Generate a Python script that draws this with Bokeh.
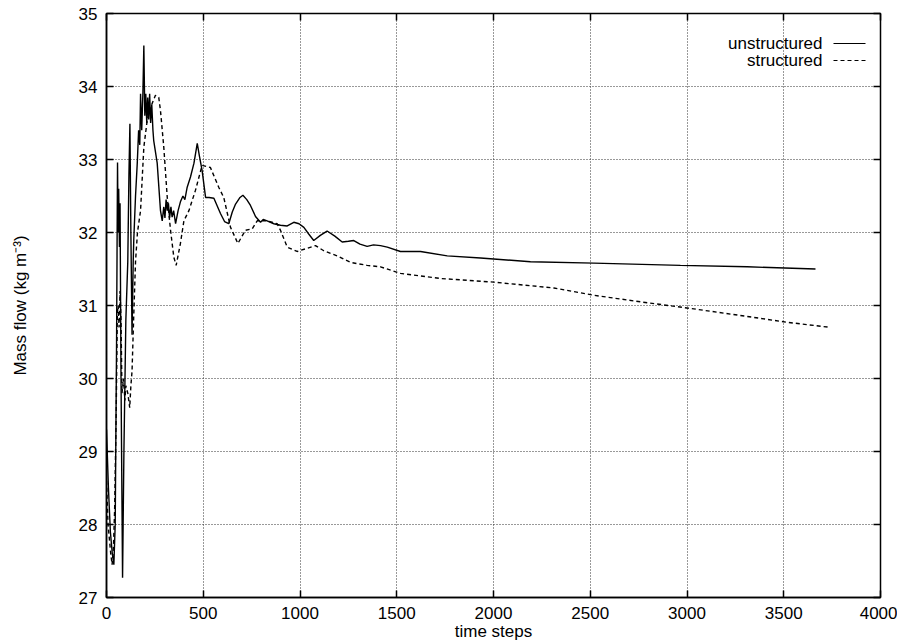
from bokeh.plotting import figure
from bokeh.models import (Range1d, LinearAxis, FixedTicker, Label, Arrow)
from bokeh.embed import file_html
from bokeh.resources import INLINE

# ---- data ----
unstructured_x = [0, 10, 20, 30, 38, 45, 52, 57, 60, 63, 67, 70, 75, 83, 90, 100, 110, 116, 121, 126,
                  132, 138, 141, 150, 159, 166, 172, 176, 182, 188, 193, 198, 203, 208, 213, 218, 223,
                  228, 234, 240, 244, 262, 279, 288, 296, 302, 308, 314, 320, 326, 333, 339, 347, 357,
                  370, 382, 395, 405, 417, 434, 452, 469, 480, 494, 512, 530, 555, 589, 610, 632, 650,
                  667, 690, 705, 725, 744, 770, 796, 810, 830, 865, 899, 934, 968, 995, 1020, 1045,
                  1071, 1105, 1140, 1180, 1218, 1250, 1278, 1310, 1347, 1380, 1416, 1451, 1519, 1623,
                  1761, 1933, 2191, 2519, 2966, 3311, 3664]
unstructured_y = [29.3, 28.5, 27.9, 27.6, 27.45, 28.0, 30.5, 32.96, 32.0, 32.6, 31.8, 32.4, 30.0, 27.27,
                  29.0, 30.8, 31.6, 32.8, 33.49, 32.0, 30.6, 31.6, 31.9, 32.5, 32.95, 33.4, 33.2, 33.9,
                  33.4, 33.9, 34.56, 33.6, 33.9, 33.5, 33.85, 33.55, 33.9, 33.5, 33.75, 33.4, 33.26,
                  32.95, 32.30, 32.16, 32.35, 32.2, 32.45, 32.3, 32.4, 32.2, 32.35, 32.21, 32.3, 32.12,
                  32.3, 32.42, 32.5, 32.45, 32.62, 32.76, 32.95, 33.22, 33.05, 32.85, 32.48, 32.48,
                  32.47, 32.26, 32.15, 32.12, 32.28, 32.39, 32.48, 32.51, 32.45, 32.37, 32.22, 32.14,
                  32.18, 32.16, 32.12, 32.10, 32.09, 32.14, 32.12, 32.07, 31.98, 31.89, 31.96, 32.02,
                  31.95, 31.87, 31.88, 31.89, 31.84, 31.81, 31.83, 31.82, 31.80, 31.74, 31.74, 31.68,
                  31.65, 31.60, 31.58, 31.55, 31.53, 31.50]

structured_x = [0, 8, 15, 22, 29, 36, 42, 50, 56, 60, 65, 70, 75, 80, 88, 95, 100, 110, 120, 126, 132,
                140, 150, 160, 176, 193, 210, 227, 253, 270, 279, 296, 314, 331, 348, 360, 382, 400,
                426, 460, 494, 537, 580, 606, 641, 679, 718, 753, 779, 830, 882, 899, 934, 985, 1080,
                1123, 1192, 1261, 1347, 1416, 1519, 1726, 2002, 2312, 2519, 2760, 3018, 3311, 3518, 3742]
structured_y = [28.6, 28.0, 27.8, 27.6, 27.45, 27.7, 28.2, 29.5, 30.9, 31.0, 30.7, 31.2, 30.8, 29.8,
                30.0, 29.7, 29.9, 29.8, 29.6, 29.9, 30.1, 30.8, 31.6, 32.0, 32.3, 33.17, 33.53, 33.71,
                33.88, 33.85, 33.67, 33.17, 32.48, 32.03, 31.66, 31.55, 31.85, 32.16, 32.30, 32.58,
                32.92, 32.89, 32.62, 32.48, 32.07, 31.85, 32.03, 32.05, 32.16, 32.16, 32.12, 32.03,
                31.80, 31.74, 31.82, 31.75, 31.68, 31.59, 31.55, 31.53, 31.44, 31.37, 31.32, 31.24,
                31.14, 31.05, 30.96, 30.85, 30.77, 30.70]

x_ticks = [0, 500, 1000, 1500, 2000, 2500, 3000, 3500, 4000]
y_ticks = [27, 28, 29, 30, 31, 32, 33, 34, 35]
series_names = ["unstructured", "structured"]
series_dash = ["solid", "4 3"]

FONT = "Liberation Sans"
FS = "17px"

p = figure(width=897, height=643, output_backend="svg", toolbar_location=None,
           x_range=Range1d(0, 4000), y_range=Range1d(27, 35),
           min_border_left=106, min_border_right=17, min_border_top=13, min_border_bottom=46,
           x_axis_label="time steps", y_axis_label="Mass flow (kg m\u207b\u00b3)")

p.background_fill_color = "white"
p.border_fill_color = "white"
p.outline_line_color = "black"
p.outline_line_width = 1.5

for ax in p.xaxis + p.yaxis:
    ax.major_tick_in = 7
    ax.major_tick_out = 0
    ax.minor_tick_in = 0
    ax.minor_tick_out = 0
    ax.axis_line_color = "black"
    ax.axis_line_width = 1.5
    ax.major_tick_line_width = 1.5
    ax.major_label_text_font = FONT
    ax.major_label_text_font_size = FS
    ax.major_label_text_color = "black"
    ax.axis_label_text_font = FONT
    ax.axis_label_text_font_size = FS
    ax.axis_label_text_font_style = "normal"
    ax.axis_label_text_color = "black"

p.xaxis.ticker = FixedTicker(ticks=x_ticks)
p.yaxis.ticker = FixedTicker(ticks=y_ticks)
p.xaxis.major_label_standoff = 9
p.xaxis.axis_label_standoff = 0
p.yaxis.major_label_standoff = 9
p.yaxis.axis_label_standoff = 46

# mirrored ticks on top / right (no labels)
right_ax = LinearAxis(ticker=FixedTicker(ticks=y_ticks),
                      major_label_overrides={t: "" for t in y_ticks},
                      major_tick_in=7, major_tick_out=0, minor_tick_in=0, minor_tick_out=0,
                      axis_line_color="black", major_label_standoff=0, major_tick_line_width=1.5)
top_ax = LinearAxis(ticker=FixedTicker(ticks=x_ticks),
                    major_label_overrides={t: "" for t in x_ticks},
                    major_tick_in=7, major_tick_out=0, minor_tick_in=0, minor_tick_out=0,
                    axis_line_color="black", major_label_standoff=0, major_tick_line_width=1.5)
p.add_layout(right_ax, "right")
p.add_layout(top_ax, "above")

p.xgrid[0].ticker = FixedTicker(ticks=x_ticks)
p.ygrid[0].ticker = FixedTicker(ticks=y_ticks)
for g in (p.xgrid[0], p.ygrid[0]):
    g.grid_line_color = "#333333"
    g.grid_line_dash = "1 2"
    g.grid_line_width = 1

p.line(unstructured_x, unstructured_y, line_color="black", line_width=1.4)
p.line(structured_x, structured_y, line_color="black", line_width=1.4, line_dash=series_dash[1])

# key: text right-aligned, line sample to its right (screen units from frame bottom-left)
for i, name in enumerate(series_names):
    yk = 554 - i * 17
    p.add_layout(Label(x=716, y=yk, x_units="screen", y_units="screen",
                       text=name, text_align="right", text_baseline="middle",
                       text_font=FONT, text_font_size=FS, text_color="black"))
    p.add_layout(Arrow(end=None, x_start=727, y_start=yk, x_end=759, y_end=yk,
                       start_units="screen", end_units="screen",
                       line_color="black", line_width=1.2, line_dash=series_dash[i]))

open("out.html", "w").write(file_html(p, INLINE))
